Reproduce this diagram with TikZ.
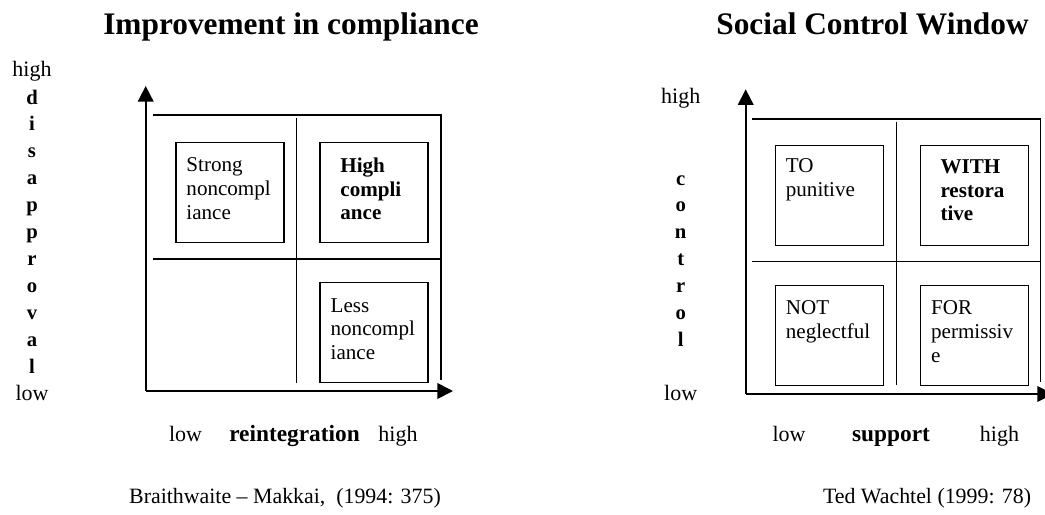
\documentclass[tikz,border=0pt]{standalone}
\usepackage{fontspec}
\setmainfont{Liberation Serif}
\usetikzlibrary{arrows.meta,positioning}

\begin{document}
\begin{tikzpicture}[x=0.75pt, y=-0.75pt,
        axis/.style={line width=1.3pt, -{Triangle[width=11.75pt,length=11.75pt]}},
        grid/.style={line width=0.9pt},
        quad/.style={draw, line width=1.1pt, minimum width=81pt, minimum height=75pt, inner sep=0pt},
        quadtext/.style={font=\fontsize{15.8}{17.75}\selectfont, align=left, anchor=north west, inner sep=0pt},
        head/.style={font=\bfseries\fontsize{23.5}{27}\selectfont, anchor=base},
        tick/.style={font=\fontsize{16.5}{19}\selectfont, anchor=base},
        axisname/.style={font=\bfseries\fontsize{17.5}{20}\selectfont, anchor=base},
        vlabel/.style={font=\bfseries\fontsize{15.5}{18}\selectfont, anchor=base},
        cite/.style={font=\fontsize{16.4}{19}\selectfont, anchor=base}
    ]
    \useasboundingbox (0,0) rectangle (1045,514);

    % Left window: disapproval against reintegration
    \node[head] (titleL) at (291,34) {Improvement in compliance};

    \coordinate (oL) at (145.7,391);
    \coordinate (yL) at (145.7,86);
    \coordinate (xL) at (453,391);
    \draw[axis] (oL) -- (yL);
    \draw[axis] (oL) -- (xL);

    \draw[grid] (152.7,115) -- (441,115) -- (441,380);
    \draw[grid] (152.7,259) -- (441,259);
    \draw[grid] (296.7,118.3) -- (296.7,382.7);

    \node[quad] (strong) at (230,192.3) {};
    \node[quad] (highc) at (374.2,192.3) {};
    \node[quad] (less) at (374.2,332.3) {};
    \node[quadtext, below right=12pt and 8.2pt of strong.north west] {Strong\\noncompl\\iance};
    \node[quadtext, font=\bfseries\fontsize{15.8}{17.75}\selectfont,
        below right=12pt and 15.5pt of highc.north west] {High\\compli\\ance};
    \node[quadtext, below right=12.5pt and 8.2pt of less.north west] {Less\\noncompl\\iance};

    \node[tick] (highL) at (32,76.7) {high};
    \node[tick] (lowL) at (32,400) {low};
    \foreach \ch [count=\i from 0] in {d,i,s,a,p,p,r,o,v,a,l}
        \node[vlabel] (disL\i) at (32,104+26.93*\i) {\ch};

    \node[tick] (lowLx) at (185.5,441.7) {low};
    \node[axisname] (reint) at (294.5,441.7) {reintegration};
    \node[tick] (highLx) at (398,441.7) {high};

    \node[cite] (citeL) at (285,503) {Braithwaite -- Makkai,\ \ (1994: 375)};

    % Right window: control against support
    \node[head] (titleR) at (872.5,34) {Social Control Window};

    \coordinate (oR) at (745.7,394);
    \coordinate (yR) at (745.7,89.3);
    \coordinate (xR) at (1053,394);
    \draw[axis] (oR) -- (yR);
    \draw[axis] (oR) -- (xR);

    \draw[grid] (752.3,119) -- (1040.7,119) -- (1040.7,381.7);
    \draw[grid] (752.3,261.7) -- (1040.7,261.7);
    \draw[grid] (896.7,121.7) -- (896.7,385);

    \node[quad] (to) at (829.7,195.5) {};
    \node[quad] (with) at (974.3,195.5) {};
    \node[quad] (not) at (829.7,335.5) {};
    \node[quad] (for) at (974.3,335.5) {};
    \node[quadtext, below right=10.5pt and 8pt of to.north west] {TO\\punitive};
    \node[quadtext, font=\bfseries\fontsize{15.8}{17.75}\selectfont,
        below right=11pt and 15.5pt of with.north west] {WITH\\restora\\tive};
    \node[quadtext, below right=12pt and 8pt of not.north west] {NOT\\neglectful};
    \node[quadtext, below right=12pt and 8.5pt of for.north west] {FOR\\permissiv\\e};

    \node[tick] (highR) at (680.7,103.3) {high};
    \node[tick] (lowR) at (680.7,400.7) {low};
    \foreach \ch [count=\i from 0] in {c,o,n,t,r,o,l}
        \node[vlabel] (conR\i) at (680.7,185+26.95*\i) {\ch};

    \node[tick] (lowRx) at (789,441.7) {low};
    \node[axisname] (supp) at (891,441.7) {support};
    \node[tick] (highRx) at (999.5,441.7) {high};

    \node[cite] (citeR) at (927,503) {Ted Wachtel (1999: 78)};
\end{tikzpicture}
\end{document}
